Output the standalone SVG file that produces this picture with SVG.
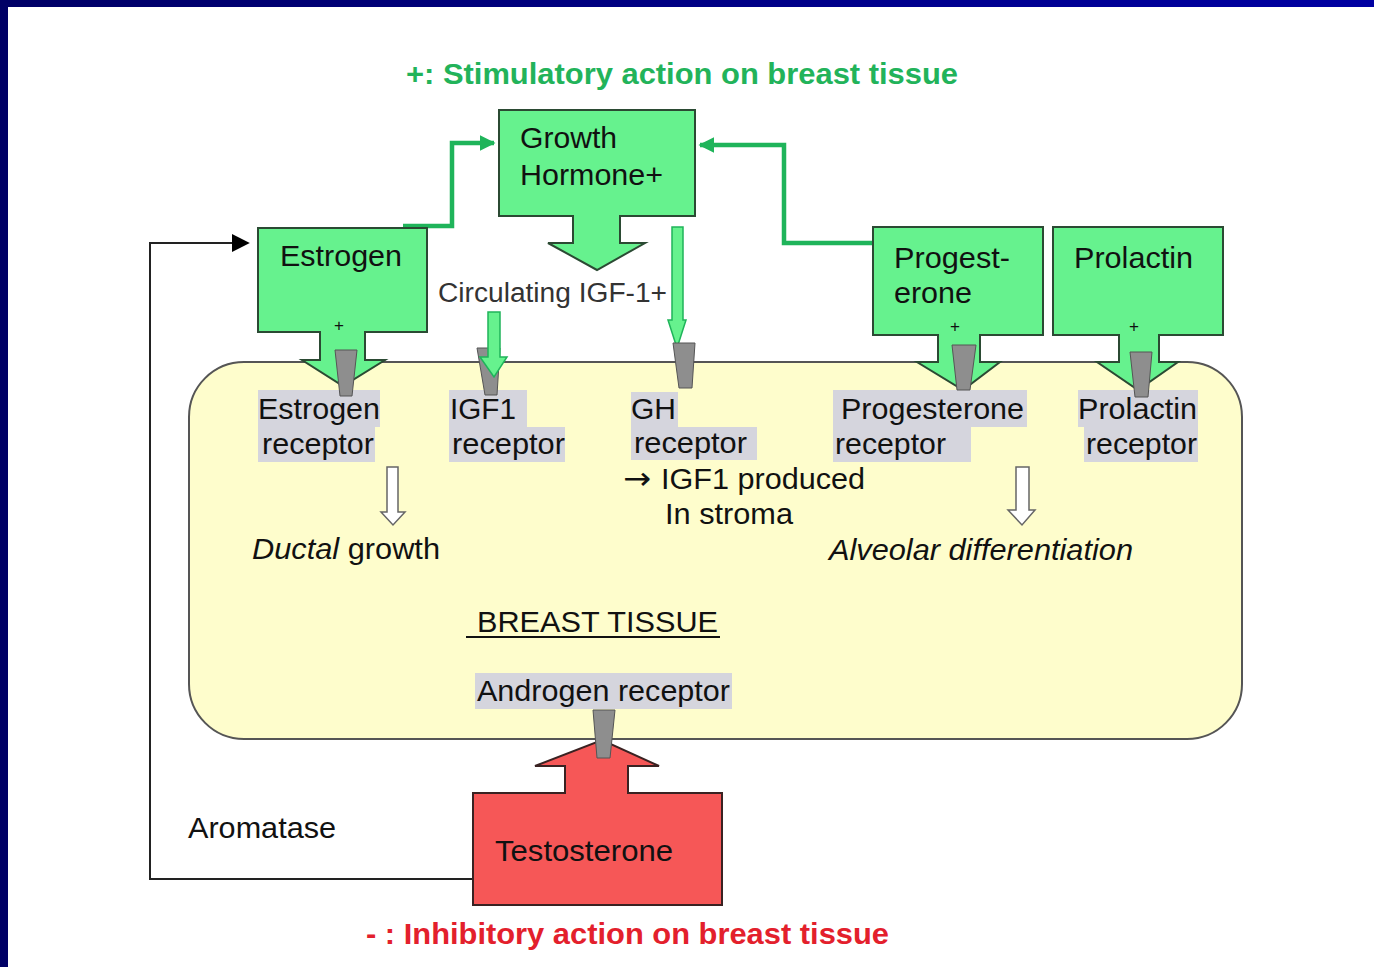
<svg xmlns="http://www.w3.org/2000/svg" width="1374" height="967" viewBox="0 0 1374 967">
<defs>
<linearGradient id="band" x1="0" y1="0" x2="1" y2="0">
<stop offset="0" stop-color="#000066"/>
<stop offset="1" stop-color="#0000a2"/>
</linearGradient>
<marker id="gArr" viewBox="0 0 10 10" refX="9" refY="5" markerWidth="3.5" markerHeight="3.5" orient="auto" markerUnits="strokeWidth">
<path d="M0,0 L10,5 L0,10 Z" fill="#1fb45a"/>
</marker>
<marker id="kArr" viewBox="0 0 10 10" refX="9" refY="5" markerWidth="9" markerHeight="9" orient="auto" markerUnits="strokeWidth">
<path d="M0,0 L10,5 L0,10 Z" fill="#000"/>
</marker>
</defs>
<style>
text{font-family:"Liberation Sans",Arial,sans-serif;fill:#111}
.lbl{font-size:29px}
.hl{fill:#d5d5dd}
.box{fill:#66f28e;stroke:#2b4a33;stroke-width:2}
.rec{fill:#8e8e8e;stroke:#555;stroke-width:1}
.hollow{fill:#fff;stroke:#666;stroke-width:1.5}
.plus{font-size:17px}
.gline{fill:none;stroke:#1fb45a;stroke-width:4.5}
</style>
<rect x="0" y="0" width="1374" height="967" fill="#fff"/>
<rect x="0" y="0" width="1374" height="7" fill="url(#band)"/>
<rect x="0" y="0" width="8" height="967" fill="#000066"/>

<text x="406" y="84" textLength="552" lengthAdjust="spacingAndGlyphs" style="font-size:30px;font-weight:bold;fill:#22b35a">+: Stimulatory action on breast tissue</text>
<text x="366" y="944" textLength="523" lengthAdjust="spacingAndGlyphs" style="font-size:30px;font-weight:bold;fill:#e3202c">- : Inhibitory action on breast tissue</text>

<g id="breast-tissue">
<rect x="189" y="362" width="1053" height="377" rx="55" ry="55" fill="#fefdcc" stroke="#555" stroke-width="2"/>
<text x="477" y="632" class="lbl" textLength="241" lengthAdjust="spacingAndGlyphs">BREAST TISSUE</text>
<line x1="466" y1="637" x2="720" y2="637" stroke="#111" stroke-width="2"/>
</g>

<g id="connectors">
<polyline class="gline" points="403,226 452,226 452,143 494,143" marker-end="url(#gArr)"/>
<polyline class="gline" points="873,243 784,243 784,145 700,145" marker-end="url(#gArr)"/>
<polyline points="473,879 150,879 150,243 248,243" fill="none" stroke="#222" stroke-width="2" marker-end="url(#kArr)"/>
<path d="M387,467 H398 V512 H405 L393,525 L381,512 H387 Z" class="hollow"/>
<path d="M1016,467 H1029 V510 H1035 L1022,525 L1008,510 H1016 Z" class="hollow"/>
</g>

<g id="estrogen">
<path class="box" d="M258,228 H427 V332 H365 V360 H385 L343,386 L302,360 H320 V332 H258 Z"/>
<text x="280" y="266" class="lbl" textLength="122" lengthAdjust="spacingAndGlyphs">Estrogen</text>
<text x="339" y="331" class="plus" text-anchor="middle">+</text>
</g>

<g id="growth-hormone">
<path class="box" d="M499,110 H695 V216 H620 V243 H645 L597,270 L548,243 H573 V216 H499 Z"/>
<text x="520" y="148" class="lbl" textLength="97" lengthAdjust="spacingAndGlyphs">Growth</text>
<text x="520" y="185" class="lbl" textLength="143" lengthAdjust="spacingAndGlyphs">Hormone+</text>
</g>

<g id="progesterone">
<path class="box" d="M873,227 H1043 V335 H980 V362 H1000 L963,390 L917,362 H938 V335 H873 Z"/>
<text x="894" y="268" class="lbl" textLength="116" lengthAdjust="spacingAndGlyphs">Progest-</text>
<text x="894" y="303" class="lbl" textLength="78" lengthAdjust="spacingAndGlyphs">erone</text>
<text x="955" y="332" class="plus" text-anchor="middle">+</text>
</g>

<g id="prolactin">
<path class="box" d="M1053,227 H1223 V335 H1159 V362 H1178 L1138,390 L1097,362 H1119 V335 H1053 Z"/>
<text x="1074" y="268" class="lbl" textLength="119" lengthAdjust="spacingAndGlyphs">Prolactin</text>
<text x="1134" y="332" class="plus" text-anchor="middle">+</text>
</g>

<g id="circulating-igf1">
<text x="438" y="302" textLength="229" lengthAdjust="spacingAndGlyphs" style="font-size:27px;fill:#333">Circulating IGF-1+</text>
</g>

<g id="estrogen-receptor">
<rect class="hl" x="258" y="390" width="122" height="37"/>
<rect class="hl" x="258" y="427" width="117" height="35"/>
<path class="rec" d="M335,350 H357 L352,396 H340 Z"/>
<text x="258" y="419" class="lbl" textLength="122" lengthAdjust="spacingAndGlyphs">Estrogen</text>
<text x="262" y="454" class="lbl" textLength="112" lengthAdjust="spacingAndGlyphs">receptor</text>
</g>

<g id="igf1-receptor">
<rect class="hl" x="449" y="390" width="78" height="37"/>
<rect class="hl" x="449" y="427" width="116" height="35"/>
<path class="rec" d="M477,348 H500 L497,395 H485 Z"/>
<path d="M488,312 H500 V357 H507 L494,377 L480,357 H488 Z" fill="#66f28e" stroke="#1fb45a" stroke-width="1.5"/>
<text x="450" y="419" class="lbl" textLength="66" lengthAdjust="spacingAndGlyphs">IGF1</text>
<text x="452" y="454" class="lbl" textLength="113" lengthAdjust="spacingAndGlyphs">receptor</text>
</g>

<g id="gh-receptor">
<rect class="hl" x="631" y="392" width="47" height="35"/>
<rect class="hl" x="631" y="427" width="126" height="33"/>
<path d="M672,227 H683 V320 H686 L677,348 L668,320 H672 Z" fill="#66f28e" stroke="#1fb45a" stroke-width="1.5"/>
<path class="rec" d="M673,343 H695 L692,388 H679 Z"/>
<text x="631" y="419" class="lbl" textLength="45" lengthAdjust="spacingAndGlyphs">GH</text>
<text x="634" y="453" class="lbl" textLength="113" lengthAdjust="spacingAndGlyphs">receptor</text>
<text x="623" y="489" class="lbl"><tspan style="font-family:'DejaVu Sans',sans-serif;font-size:31px" textLength="28" lengthAdjust="spacingAndGlyphs">→</tspan><tspan x="661" textLength="204" lengthAdjust="spacingAndGlyphs">IGF1 produced</tspan></text>
<text x="665" y="524" class="lbl" textLength="128" lengthAdjust="spacingAndGlyphs">In stroma</text>
</g>

<g id="progesterone-receptor">
<rect class="hl" x="833" y="390" width="194" height="37"/>
<rect class="hl" x="833" y="427" width="138" height="35"/>
<path class="rec" d="M952,345 H976 L970,390 H957 Z"/>
<text x="841" y="419" class="lbl" textLength="183" lengthAdjust="spacingAndGlyphs">Progesterone</text>
<text x="835" y="454" class="lbl" textLength="111" lengthAdjust="spacingAndGlyphs">receptor</text>
</g>

<g id="prolactin-receptor">
<rect class="hl" x="1078" y="390" width="120" height="37"/>
<rect class="hl" x="1084" y="427" width="114" height="35"/>
<path class="rec" d="M1130,352 H1152 L1148,397 H1135 Z"/>
<text x="1078" y="419" class="lbl" textLength="119" lengthAdjust="spacingAndGlyphs">Prolactin</text>
<text x="1086" y="454" class="lbl" textLength="111" lengthAdjust="spacingAndGlyphs">receptor</text>
</g>

<g id="outcomes">
<text x="252" y="559" class="lbl" textLength="188" lengthAdjust="spacingAndGlyphs"><tspan font-style="italic">Ductal</tspan> growth</text>
<text x="829" y="560" class="lbl" font-style="italic" textLength="304" lengthAdjust="spacingAndGlyphs">Alveolar differentiation</text>
</g>

<g id="testosterone">
<rect class="hl" x="475" y="673" width="257" height="36"/>
<text x="477" y="701" class="lbl" textLength="253" lengthAdjust="spacingAndGlyphs">Androgen receptor</text>
<path d="M473,793 H565 V766 H535 L602,740 L659,766 H628 V793 H722 V905 H473 Z" fill="#f65757" stroke="#3a2222" stroke-width="2"/>
<path class="rec" d="M593,710 H615 L610,758 H597 Z"/>
<text x="495" y="861" class="lbl" textLength="178" lengthAdjust="spacingAndGlyphs">Testosterone</text>
</g>

<g id="aromatase">
<text x="188" y="838" class="lbl" textLength="148" lengthAdjust="spacingAndGlyphs">Aromatase</text>
</g>
</svg>
